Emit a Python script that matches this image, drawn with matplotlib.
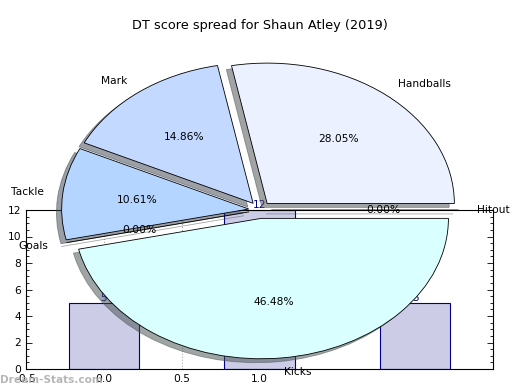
import matplotlib
matplotlib.use("Agg")
import matplotlib.pyplot as plt
from matplotlib.ticker import MultipleLocator

# Data
title = "DT score spread for Shaun Atley (2019)"
pie_labels = ["Handballs", "Mark", "Tackle", "Goals", "Kicks", "Hitout"]
pie_values = [28.05, 14.86, 10.61, 0.0, 46.48, 0.0]
pie_colors = ["#EBF1FF", "#C4D9FF", "#B4D5FF", "#FFFFFF", "#D9FFFF", "#FFFFFF"]
bar_x = [0, 1, 2]
bar_values = [5, 12, 5]
xticks = [-0.5, 0.0, 0.5, 1.0]

FS = 7.7
fig = plt.figure(figsize=(5.2, 3.9), dpi=100)

# Bar axes (behind)
axb = fig.add_axes([26/520, 21/390, 467/520, 159/390])
bars = axb.bar(bar_x, bar_values, width=0.45, color="#CCCCE6", edgecolor="#00008B",
               linewidth=0.8, align="center", zorder=2)
for xv, v in zip(bar_x, bar_values):
    axb.text(xv, v, str(v), ha="center", va="bottom", color="#00008B", fontsize=FS, zorder=3)
axb.set_xlim(-0.5, 2.5)
axb.set_ylim(0, 12)
axb.set_xticks(xticks)
axb.set_xticklabels([f"{t:.1f}" for t in xticks])
axb.yaxis.set_major_locator(MultipleLocator(2))
axb.yaxis.set_minor_locator(MultipleLocator(0.5))
axb.tick_params(which="both", direction="in", left=True, right=True, bottom=True, top=False,
                labelsize=FS, width=0.6)
axb.tick_params(which="major", length=4)
axb.tick_params(which="minor", length=2)
axb.tick_params(axis="x", length=0)
axb.grid(axis="x", color="#AAAAAA", linestyle=":", linewidth=0.8, zorder=1)
for s in axb.spines.values():
    s.set_linewidth(0.8)

# Pie axes (front)
axp = fig.add_axes([26/520, 4.5/390, 468/520, 351/390])
wedges, texts, autotexts = axp.pie(
    pie_values, labels=pie_labels, colors=pie_colors, explode=[0.06] * len(pie_values),
    autopct="%1.2f%%", shadow=True, startangle=0, labeldistance=1.1, pctdistance=0.6,
    wedgeprops=dict(edgecolor="black", linewidth=0.6),
    textprops=dict(fontsize=FS))
axp.set_aspect("auto")
axp.set_xlim(-1.25, 1.25)
axp.set_ylim(-1.25, 1.25)

fig.text(0.5, 1 - 26/390, title, ha="center", va="center", fontsize=9.3)
fig.text(0.0, 1 - 380/390, "Dream-Stats.com", ha="left", va="center", fontsize=7.6,
         color="#AAAAAA", alpha=0.85, fontweight="bold")

fig.savefig("out.png", dpi=100)
